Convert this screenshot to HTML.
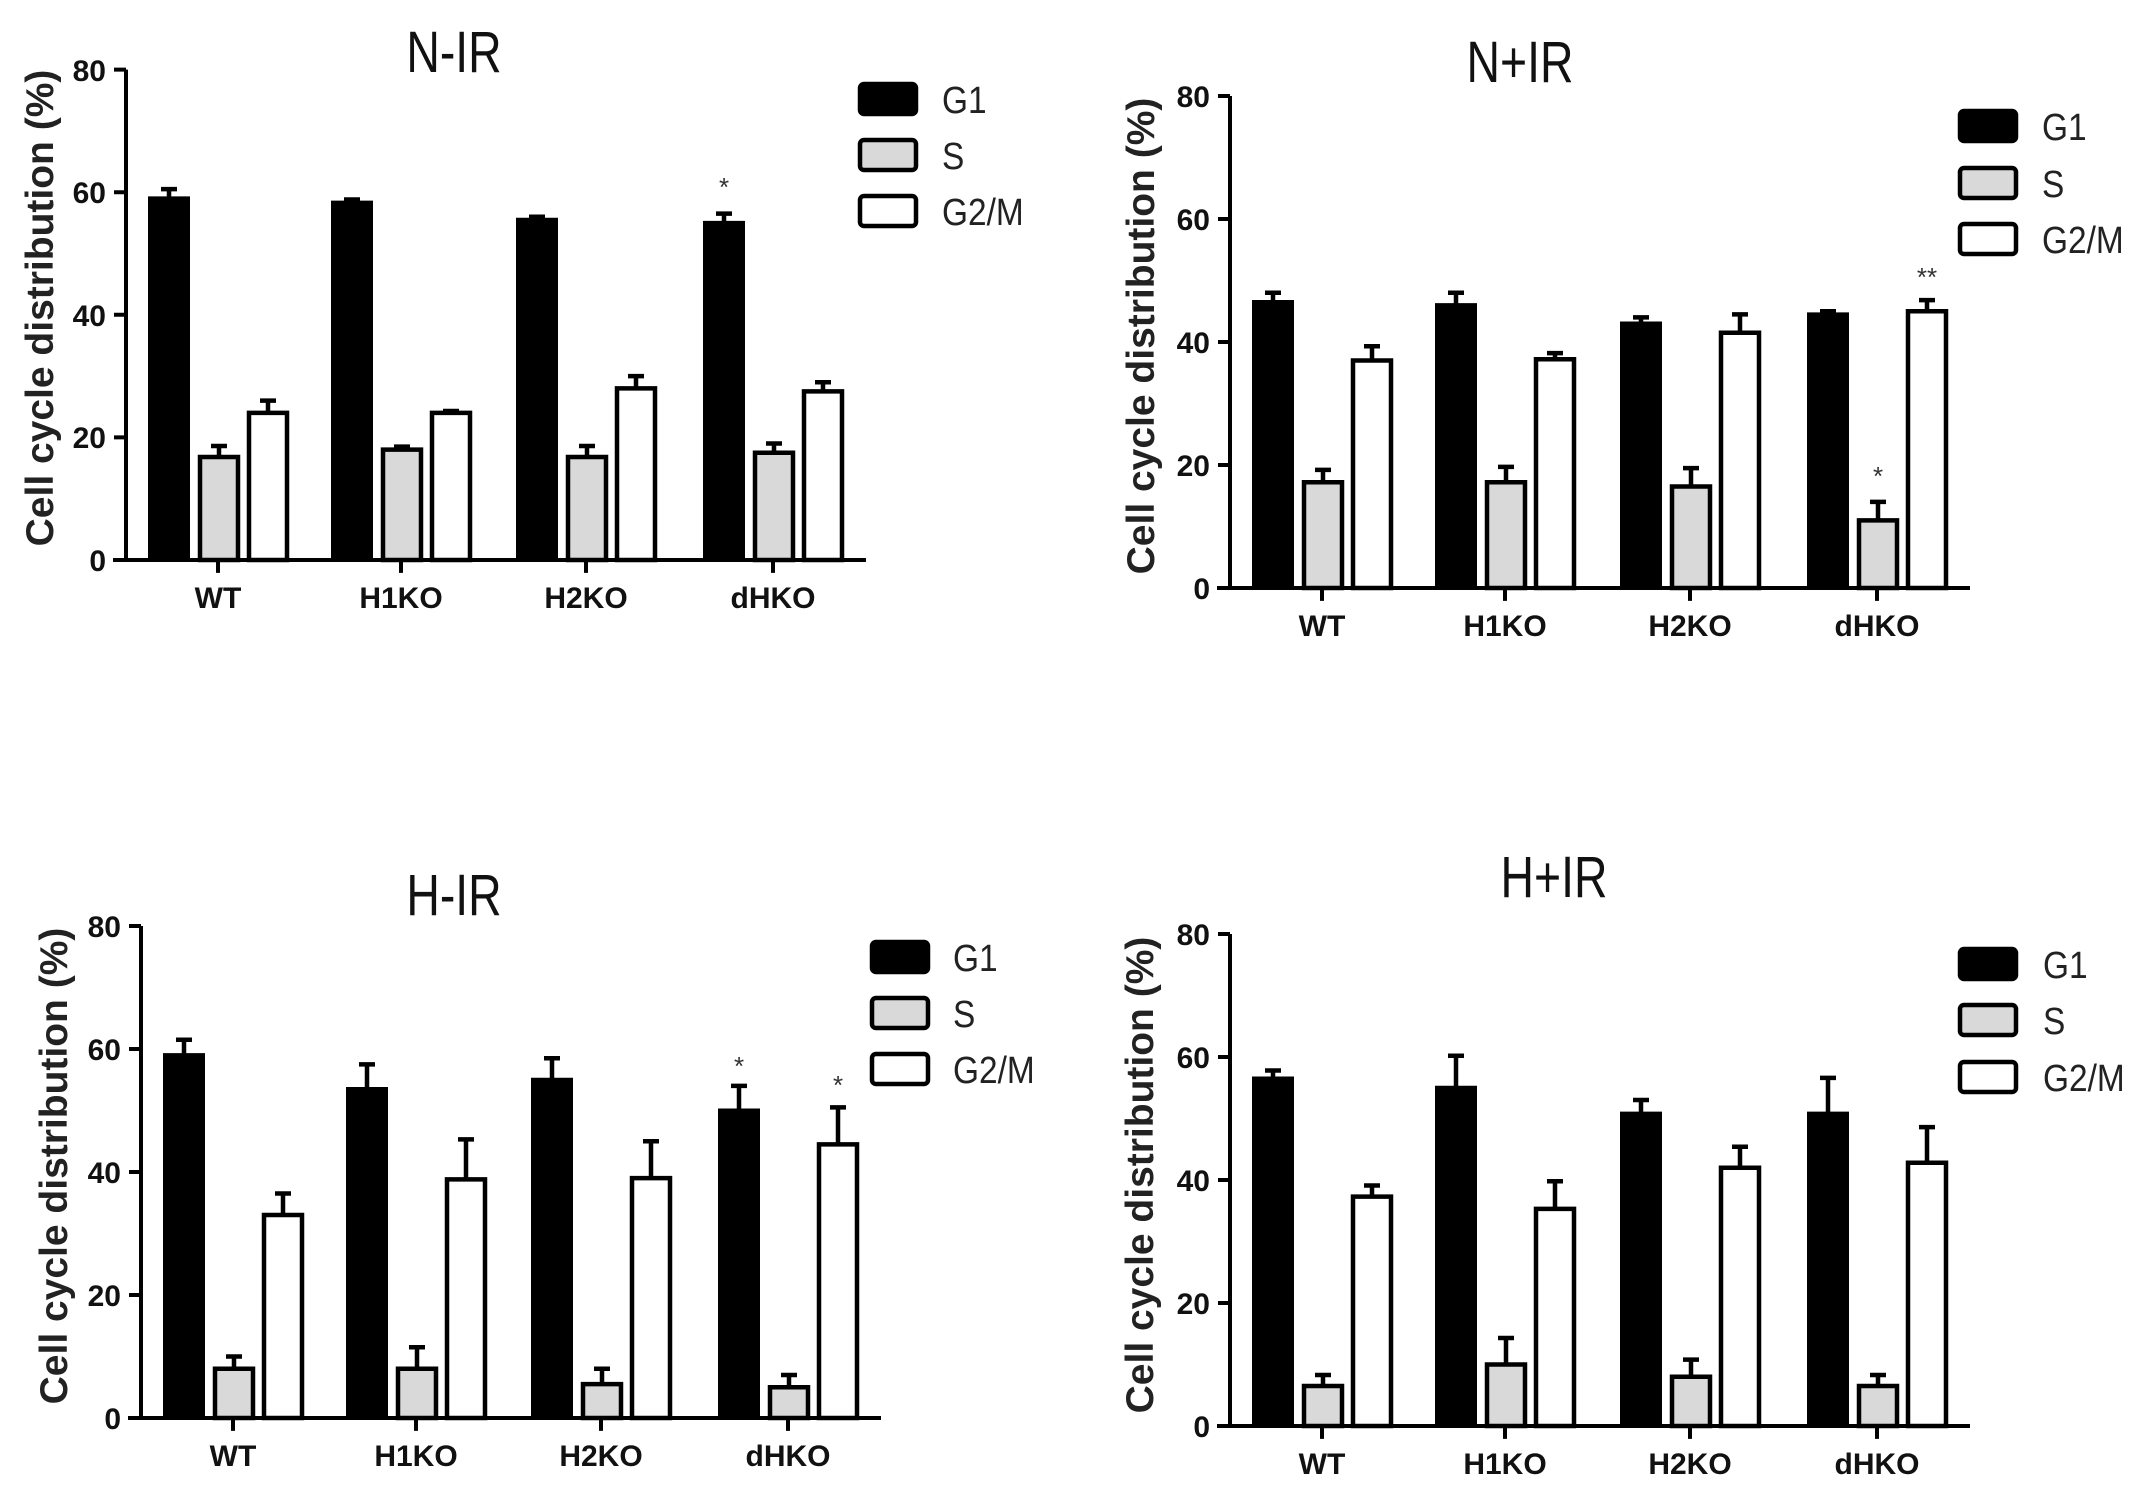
<!DOCTYPE html>
<html><head><meta charset="utf-8">
<style>
html,body{margin:0;padding:0;background:#fff}
svg{display:block}
.t{font-family:"Liberation Sans",sans-serif;font-size:58px;fill:#111;text-anchor:middle}
.tk{font-family:"Liberation Sans",sans-serif;font-weight:bold;font-size:30px;fill:#111;text-anchor:end}
.xl{font-family:"Liberation Sans",sans-serif;font-weight:bold;font-size:30px;fill:#111;text-anchor:middle}
.yl{font-family:"Liberation Sans",sans-serif;font-weight:bold;font-size:39px;fill:#222;text-anchor:middle}
.lg{font-family:"Liberation Sans",sans-serif;font-size:38px;fill:#222}
.st{font-family:"Liberation Sans",sans-serif;font-size:26px;fill:#333;text-anchor:middle}
.s path,.s rect,.s line{vector-effect:non-scaling-stroke}
.g1{fill:#000;stroke:#000;stroke-width:4}
.gs{fill:#d9d9d9;stroke:#000;stroke-width:4.5}
.gm{fill:#fff;stroke:#000;stroke-width:4.5}
.e{stroke:#000;stroke-width:4.5;fill:none}
.ax{stroke:#000;stroke-width:4;fill:none}
.lb{stroke:#000;stroke-width:4.5}
</style></head>
<body>
<svg width="2147" height="1487" viewBox="0 0 2147 1487" xmlns="http://www.w3.org/2000/svg">

<!-- Panel 1: N-IR -->
<text class="t" transform="translate(454,72) scale(0.8,1)">N-IR</text>
<text class="yl" transform="translate(53,308) rotate(-90)">Cell cycle distribution (%)</text>
<g transform="translate(126,560)">
  <text class="tk" x="-20" y="11">0</text>
  <text class="tk" x="-20" y="-112">20</text>
  <text class="tk" x="-20" y="-234">40</text>
  <text class="tk" x="-20" y="-357">60</text>
  <text class="tk" x="-20" y="-479">80</text>
  <text class="xl" x="92" y="48">WT</text>
  <text class="xl" x="275" y="48">H1KO</text>
  <text class="xl" x="460" y="48">H2KO</text>
  <text class="xl" x="647" y="48">dHKO</text>
  <text class="st" x="598" y="-364">*</text>
  <g class="s" transform="scale(1,-6.13)">
    <path class="ax" d="M0 0V80M-12 0H0M-12 20H0M-12 40H0M-12 60H0M-12 80H0M-13 0H740M92 0V-2.1M275 0V-2.1M460 0V-2.1M647 0V-2.1"/>
    <path class="e" d="M43 59V60.5M35 60.5H51M226 58.3V58.8M218 58.8H234M411 55.5V56M403 56H419M598 55V56.5M590 56.5H606"/>
    <path class="e" d="M93 16.8V18.6M85 18.6H101M276 18V18.5M268 18.5H284M461 16.8V18.6M453 18.6H469M648 17.5V19M640 19H656"/>
    <path class="e" d="M142 24V26M134 26H150M325 24V24.3M317 24.3H333M510 28V30M502 30H518M697 27.5V29M689 29H705"/>
    <rect class="g1" x="24" y="0" width="38" height="59"/><rect class="g1" x="207" y="0" width="38" height="58.3"/><rect class="g1" x="392" y="0" width="38" height="55.5"/><rect class="g1" x="579" y="0" width="38" height="55"/>
    <rect class="gs" x="74" y="0" width="38" height="16.8"/><rect class="gs" x="257" y="0" width="38" height="18"/><rect class="gs" x="442" y="0" width="38" height="16.8"/><rect class="gs" x="629" y="0" width="38" height="17.5"/>
    <rect class="gm" x="123" y="0" width="38" height="24"/><rect class="gm" x="306" y="0" width="38" height="24"/><rect class="gm" x="491" y="0" width="38" height="28"/><rect class="gm" x="678" y="0" width="38" height="27.5"/>
  </g>
</g>
<rect class="lb" x="860" y="84" width="56" height="30" rx="4" fill="#000"/>
<rect class="lb" x="860" y="140" width="56" height="30" rx="4" fill="#d9d9d9"/>
<rect class="lb" x="860" y="196" width="56" height="30" rx="4" fill="#fff"/>
<text class="lg" transform="translate(942,113) scale(0.88,1)">G1</text>
<text class="lg" transform="translate(942,169) scale(0.88,1)">S</text>
<text class="lg" transform="translate(942,225) scale(0.88,1)">G2/M</text>

<!-- Panel 2: N+IR -->
<text class="t" transform="translate(1520,82) scale(0.8,1)">N+IR</text>
<text class="yl" transform="translate(1154,336) rotate(-90)">Cell cycle distribution (%)</text>
<g transform="translate(1230,588)">
  <text class="tk" x="-20" y="11">0</text>
  <text class="tk" x="-20" y="-112">20</text>
  <text class="tk" x="-20" y="-235">40</text>
  <text class="tk" x="-20" y="-358">60</text>
  <text class="tk" x="-20" y="-481">80</text>
  <text class="xl" x="92" y="48">WT</text>
  <text class="xl" x="275" y="48">H1KO</text>
  <text class="xl" x="460" y="48">H2KO</text>
  <text class="xl" x="647" y="48">dHKO</text>
  <text class="st" x="648" y="-103">*</text>
  <text class="st" x="697" y="-302">**</text>
  <g class="s" transform="scale(1,-6.15)">
    <path class="ax" d="M0 0V80M-12 0H0M-12 20H0M-12 40H0M-12 60H0M-12 80H0M-13 0H740M92 0V-2.1M275 0V-2.1M460 0V-2.1M647 0V-2.1"/>
    <path class="e" d="M43 46.5V48M35 48H51M226 46V48M218 48H234M411 43V44M403 44H419M598 44.5V45M590 45H606"/>
    <path class="e" d="M93 17.2V19.2M85 19.2H101M276 17.2V19.7M268 19.7H284M461 16.5V19.5M453 19.5H469M648 11V14M640 14H656"/>
    <path class="e" d="M142 37V39.3M134 39.3H150M325 37.2V38.2M317 38.2H333M510 41.5V44.5M502 44.5H518M697 45V46.8M689 46.8H705"/>
    <rect class="g1" x="24" y="0" width="38" height="46.5"/><rect class="g1" x="207" y="0" width="38" height="46"/><rect class="g1" x="392" y="0" width="38" height="43"/><rect class="g1" x="579" y="0" width="38" height="44.5"/>
    <rect class="gs" x="74" y="0" width="38" height="17.2"/><rect class="gs" x="257" y="0" width="38" height="17.2"/><rect class="gs" x="442" y="0" width="38" height="16.5"/><rect class="gs" x="629" y="0" width="38" height="11"/>
    <rect class="gm" x="123" y="0" width="38" height="37"/><rect class="gm" x="306" y="0" width="38" height="37.2"/><rect class="gm" x="491" y="0" width="38" height="41.5"/><rect class="gm" x="678" y="0" width="38" height="45"/>
  </g>
</g>
<rect class="lb" x="1960" y="111" width="56" height="30" rx="4" fill="#000"/>
<rect class="lb" x="1960" y="168" width="56" height="30" rx="4" fill="#d9d9d9"/>
<rect class="lb" x="1960" y="224" width="56" height="30" rx="4" fill="#fff"/>
<text class="lg" transform="translate(2042,140) scale(0.88,1)">G1</text>
<text class="lg" transform="translate(2042,197) scale(0.88,1)">S</text>
<text class="lg" transform="translate(2042,253) scale(0.88,1)">G2/M</text>

<!-- Panel 3: H-IR -->
<text class="t" transform="translate(454,915) scale(0.8,1)">H-IR</text>
<text class="yl" transform="translate(67,1166) rotate(-90)">Cell cycle distribution (%)</text>
<g transform="translate(141,1418)">
  <text class="tk" x="-20" y="11">0</text>
  <text class="tk" x="-20" y="-112">20</text>
  <text class="tk" x="-20" y="-235">40</text>
  <text class="tk" x="-20" y="-358">60</text>
  <text class="tk" x="-20" y="-481">80</text>
  <text class="xl" x="92" y="48">WT</text>
  <text class="xl" x="275" y="48">H1KO</text>
  <text class="xl" x="460" y="48">H2KO</text>
  <text class="xl" x="647" y="48">dHKO</text>
  <text class="st" x="598" y="-343">*</text>
  <text class="st" x="697" y="-324">*</text>
  <g class="s" transform="scale(1,-6.15)">
    <path class="ax" d="M0 0V80M-12 0H0M-12 20H0M-12 40H0M-12 60H0M-12 80H0M-13 0H740M92 0V-2.1M275 0V-2.1M460 0V-2.1M647 0V-2.1"/>
    <path class="e" d="M43 59V61.5M35 61.5H51M226 53.5V57.5M218 57.5H234M411 55V58.5M403 58.5H419M598 50V54M590 54H606"/>
    <path class="e" d="M93 8V10M85 10H101M276 8V11.5M268 11.5H284M461 5.5V8M453 8H469M648 5V7M640 7H656"/>
    <path class="e" d="M142 33V36.5M134 36.5H150M325 38.8V45.3M317 45.3H333M510 39V45M502 45H518M697 44.5V50.5M689 50.5H705"/>
    <rect class="g1" x="24" y="0" width="38" height="59"/><rect class="g1" x="207" y="0" width="38" height="53.5"/><rect class="g1" x="392" y="0" width="38" height="55"/><rect class="g1" x="579" y="0" width="38" height="50"/>
    <rect class="gs" x="74" y="0" width="38" height="8"/><rect class="gs" x="257" y="0" width="38" height="8"/><rect class="gs" x="442" y="0" width="38" height="5.5"/><rect class="gs" x="629" y="0" width="38" height="5"/>
    <rect class="gm" x="123" y="0" width="38" height="33"/><rect class="gm" x="306" y="0" width="38" height="38.8"/><rect class="gm" x="491" y="0" width="38" height="39"/><rect class="gm" x="678" y="0" width="38" height="44.5"/>
  </g>
</g>
<rect class="lb" x="872" y="942" width="56" height="30" rx="4" fill="#000"/>
<rect class="lb" x="872" y="998" width="56" height="30" rx="4" fill="#d9d9d9"/>
<rect class="lb" x="872" y="1054" width="56" height="30" rx="4" fill="#fff"/>
<text class="lg" transform="translate(953,971) scale(0.88,1)">G1</text>
<text class="lg" transform="translate(953,1027) scale(0.88,1)">S</text>
<text class="lg" transform="translate(953,1083) scale(0.88,1)">G2/M</text>

<!-- Panel 4: H+IR -->
<text class="t" transform="translate(1554,897) scale(0.8,1)">H+IR</text>
<text class="yl" transform="translate(1153,1175) rotate(-90)">Cell cycle distribution (%)</text>
<g transform="translate(1230,1426)">
  <text class="tk" x="-20" y="11">0</text>
  <text class="tk" x="-20" y="-112">20</text>
  <text class="tk" x="-20" y="-235">40</text>
  <text class="tk" x="-20" y="-358">60</text>
  <text class="tk" x="-20" y="-481">80</text>
  <text class="xl" x="92" y="48">WT</text>
  <text class="xl" x="275" y="48">H1KO</text>
  <text class="xl" x="460" y="48">H2KO</text>
  <text class="xl" x="647" y="48">dHKO</text>
  <g class="s" transform="scale(1,-6.15)">
    <path class="ax" d="M0 0V80M-12 0H0M-12 20H0M-12 40H0M-12 60H0M-12 80H0M-13 0H740M92 0V-2.1M275 0V-2.1M460 0V-2.1M647 0V-2.1"/>
    <path class="e" d="M43 56.5V57.8M35 57.8H51M226 55V60.2M218 60.2H234M411 50.8V53M403 53H419M598 50.8V56.6M590 56.6H606"/>
    <path class="e" d="M93 6.5V8.3M85 8.3H101M276 10V14.3M268 14.3H284M461 8V10.8M453 10.8H469M648 6.5V8.3M640 8.3H656"/>
    <path class="e" d="M142 37.3V39.1M134 39.1H150M325 35.3V39.8M317 39.8H333M510 42V45.4M502 45.4H518M697 42.8V48.6M689 48.6H705"/>
    <rect class="g1" x="24" y="0" width="38" height="56.5"/><rect class="g1" x="207" y="0" width="38" height="55"/><rect class="g1" x="392" y="0" width="38" height="50.8"/><rect class="g1" x="579" y="0" width="38" height="50.8"/>
    <rect class="gs" x="74" y="0" width="38" height="6.5"/><rect class="gs" x="257" y="0" width="38" height="10"/><rect class="gs" x="442" y="0" width="38" height="8"/><rect class="gs" x="629" y="0" width="38" height="6.5"/>
    <rect class="gm" x="123" y="0" width="38" height="37.3"/><rect class="gm" x="306" y="0" width="38" height="35.3"/><rect class="gm" x="491" y="0" width="38" height="42"/><rect class="gm" x="678" y="0" width="38" height="42.8"/>
  </g>
</g>
<rect class="lb" x="1960" y="949" width="56" height="30" rx="4" fill="#000"/>
<rect class="lb" x="1960" y="1005" width="56" height="30" rx="4" fill="#d9d9d9"/>
<rect class="lb" x="1960" y="1062" width="56" height="30" rx="4" fill="#fff"/>
<text class="lg" transform="translate(2043,978) scale(0.88,1)">G1</text>
<text class="lg" transform="translate(2043,1034) scale(0.88,1)">S</text>
<text class="lg" transform="translate(2043,1091) scale(0.88,1)">G2/M</text>

</svg>
</body></html>
